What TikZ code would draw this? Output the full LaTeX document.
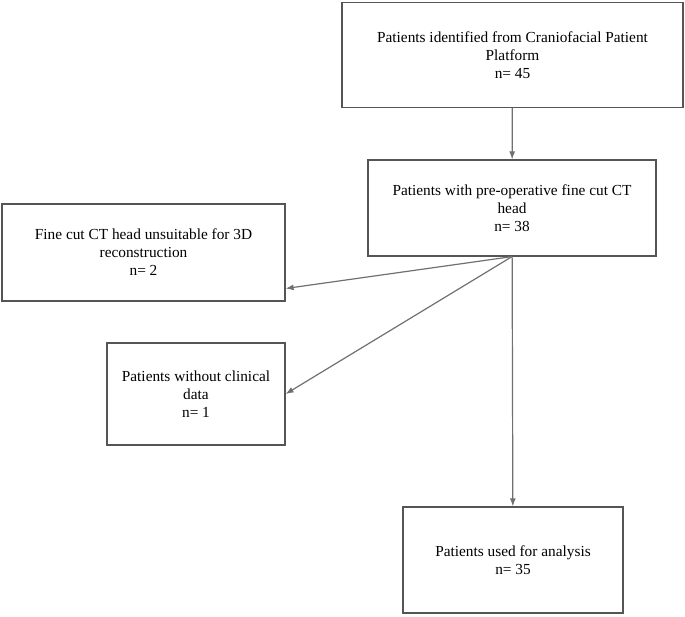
\documentclass[tikz,border=0pt]{standalone}
\usepackage{fontspec}
\setmainfont{Liberation Serif}
\usetikzlibrary{arrows.meta,positioning}
\definecolor{boxgray}{HTML}{555555}
\definecolor{arrowgray}{HTML}{707070}
\tikzset{
    -{Latex[length=6pt,width=4.5pt]},
    box/.style ={rectangle, draw=boxgray, line width=0.9pt, align=center, inner sep=0pt,
                 font=\fontsize{11.5}{13.5}\selectfont},
    flow/.style={arrowgray, line width=0.9pt}
}

\begin{document}
\begin{tikzpicture}[x=0.75pt,y=-0.75pt]
      \useasboundingbox (0,0) rectangle (685,617);
      \node[box, minimum width=255.75pt, minimum height=78.75pt] (identified) at (512.5,55)
          {Patients identified from Craniofacial Patient\\Platform\\n= 45};
      \node[box, minimum width=216pt, minimum height=72pt] (fineCT) at (512,208)
          {Patients with pre-operative fine cut CT\\head\\n= 38};
      \node[box, minimum width=212.25pt, minimum height=72.75pt] (unsuitable) at (143.5,252.5)
          {Fine cut CT head unsuitable for 3D\\reconstruction\\n= 2};
      \node[box, minimum width=133.5pt, minimum height=76.5pt] (noclinical) at (196,394)
          {Patients without clinical\\data\\n= 1};
      \node[box, minimum width=165pt, minimum height=79.5pt] (analysis) at (513,560)
          {Patients used for analysis\\n= 35};

      \path[flow] (identified) edge (fineCT);
      \path[flow] (fineCT.south) edge ([yshift=-27pt]unsuitable.east);
      \path[flow] (fineCT.south) edge (noclinical.east);
      \path[flow] (fineCT) edge (analysis);
\end{tikzpicture}
\end{document}
